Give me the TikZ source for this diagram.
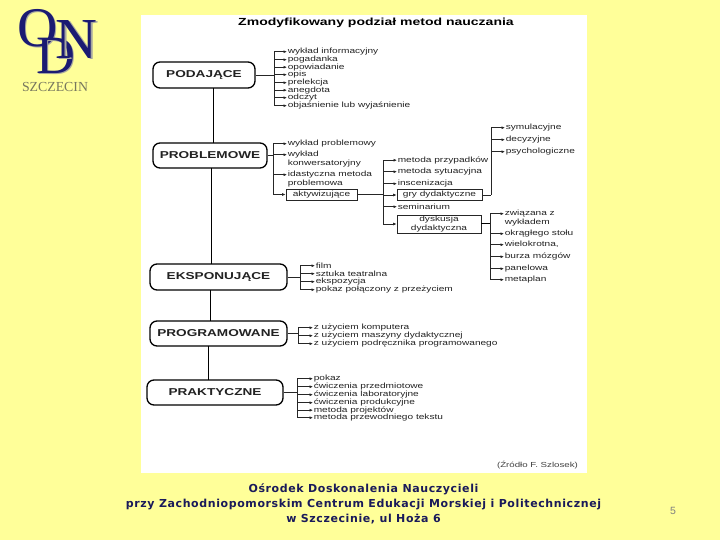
\documentclass[tikz,border=0pt]{standalone}
\usepackage{fontspec}
\setmainfont{Liberation Sans}
\newfontfamily\scanfont[FakeStretch=1.33]{Liberation Sans}
\newfontfamily\headfont[FakeStretch=1.36]{Liberation Sans}
\newfontfamily\logofont{Liberation Serif}
\newfontfamily\footfont[LetterSpace=5.5]{DejaVu Sans}
\usetikzlibrary{arrows.meta}
\definecolor{bgyellow}{HTML}{FFFF99}
\definecolor{logonavy}{HTML}{1B1B72}
\definecolor{logoshade}{HTML}{A8A8A0}
\definecolor{logotext}{HTML}{77775F}
\definecolor{foot}{HTML}{1A1A5A}
\definecolor{scanink}{HTML}{222222}
\tikzset{
  x=1pt,y=-1pt,
  major/.style={draw=black,line width=1.3pt,rounded corners=7pt,inner sep=0pt,text=scanink,font=\headfont\fontsize{10}{10}\selectfont\bfseries},
  sub/.style={draw=black!85,line width=.8pt,inner sep=0pt,text=scanink,font=\scanfont\fontsize{7.6}{9}\selectfont,align=center},
  item/.style={anchor=west,inner sep=0pt,outer sep=.8pt,yshift=-.7pt,text=scanink,font=\scanfont\fontsize{7.6}{8.6}\selectfont,align=left},
  link/.style={draw=black!85,line width=.7pt},
  spine/.style={draw=black,line width=1pt},
  arr/.style={link,-{Latex[length=3.5pt,width=3pt]}},
}
\begin{document}
\begin{tikzpicture}
\useasboundingbox (0,0) rectangle (720,540);
\fill[bgyellow] (0,0) rectangle (720,540);
\fill[white] (141,15) rectangle (587,473);

% logo
\node[inner sep=0,text=logoshade] at (39,29.5) {\logofont\fontsize{56}{56}\selectfont O};
\node[inner sep=0,text=logonavy] at (37.5,28.5) {\logofont\fontsize{56}{56}\selectfont O};
\node[inner sep=0,text=logoshade] at (57,56.5) {\logofont\fontsize{54}{54}\selectfont D};
\node[inner sep=0,text=logonavy] at (55.5,55.5) {\logofont\fontsize{54}{54}\selectfont D};
\node[inner sep=0,text=logoshade] at (78,41) {\logofont\fontsize{58}{58}\selectfont N};
\node[inner sep=0,text=logonavy] at (76.5,40) {\logofont\fontsize{58}{58}\selectfont N};
\node[inner sep=0,text=logotext] at (55,87.5) {\logofont\fontsize{13.8}{14}\selectfont SZCZECIN};

% title
\node[inner sep=0,text=black] (title) at (376,23) {\headfont\fontsize{10.3}{11}\selectfont\bfseries Zmodyfikowany podział metod nauczania};

% main boxes
\node[major,minimum width=102pt,minimum height=26pt] (pod) at (204,75) {PODAJĄCE};
\node[major,minimum width=114pt,minimum height=25pt] (pro) at (210,155.5) {PROBLEMOWE};
\node[major,minimum width=137pt,minimum height=26pt] (eks) at (218.5,277) {EKSPONUJĄCE};
\node[major,minimum width=137pt,minimum height=25pt] (prg) at (218.5,333.5) {PROGRAMOWANE};
\node[major,minimum width=136pt,minimum height=25pt] (pra) at (215,392.5) {PRAKTYCZNE};

% spine
\coordinate (s1) at (213,88); \coordinate (s1b) at (213,143);
\coordinate (s2) at (211,168); \coordinate (s2b) at (211,264);
\coordinate (s3) at (210,290); \coordinate (s3b) at (210,321);
\coordinate (s4) at (208,346); \coordinate (s4b) at (208,380);
\draw[spine] (s1) -- (s1b);
\draw[spine] (s2) -- (s2b);
\draw[spine] (s3) -- (s3b);
\draw[spine] (s4) -- (s4b);

% PODAJACE
\coordinate (tpod) at (274,75);
\draw[link] (pod.east) -- (tpod);
\node[item] (a1) at (287,51) {wykład informacyjny};
\node[item] (a2) at (287,59) {pogadanka};
\node[item] (a3) at (287,66.5) {opowiadanie};
\node[item] (a4) at (287,74) {opis};
\node[item] (a5) at (287,82) {prelekcja};
\node[item] (a6) at (287,89.5) {anegdota};
\node[item] (a7) at (287,97) {odczyt};
\node[item] (a8) at (287,105) {objaśnienie lub wyjaśnienie};
\foreach \n in {a1,a2,a3,a4,a5,a6,a7,a8} \draw[arr] (tpod) |- (\n.west);

% PROBLEMOWE
\coordinate (tpro) at (273,155.5);
\draw[link] (pro.east) -- (tpro);
\node[item] (b1) at (287,143) {wykład problemowy};
\node[item] (b2) at (287,154) {wykład};
\node[item,anchor=north west] (b2b) at (287,158.5) {konwersatoryjny};
\node[item] (b3) at (287,174) {idastyczna metoda};
\node[item,anchor=north west] (b3b) at (287,178) {problemowa};
\node[sub,minimum width=71pt,minimum height=11pt] (akt) at (321.5,194.5) {aktywizujące};
\foreach \n in {b1,b2,b3,akt} \draw[arr] (tpro) |- (\n.west);

% aktywizujace
\coordinate (takt) at (383,194.5);
\draw[link] (akt.east) -- (takt);
\node[item] (c1) at (397,159.5) {metoda przypadków};
\node[item] (c2) at (397,171) {metoda sytuacyjna};
\node[item] (c3) at (397,183) {inscenizacja};
\node[sub,minimum width=85pt,minimum height=11pt] (gry) at (439.5,195) {gry dydaktyczne};
\node[item] (c5) at (397,206) {seminarium};
\node[sub,minimum width=84pt,minimum height=18pt,font=\scanfont\fontsize{7.6}{8.5}\selectfont] (dys) at (439,224) {dyskusja\\dydaktyczna};
\foreach \n in {c1,c2,c3,gry,c5,dys} \draw[arr] (takt) |- (\n.west);

% gry
\coordinate (tgry) at (491,195);
\draw[link] (gry.east) -- (tgry);
\node[item] (d1) at (505,127) {symulacyjne};
\node[item] (d2) at (505,139) {decyzyjne};
\node[item] (d3) at (505,151) {psychologiczne};
\foreach \n in {d1,d2,d3} \draw[arr] (tgry) |- (\n.west);

% dyskusja
\coordinate (tdys) at (490,224);
\draw[spine] (dys.east) -- (tdys);
\node[item] (e1) at (504,213) {związana z};
\node[item,anchor=north west] (e1b) at (504,217) {wykładem};
\node[item] (e2) at (504,233) {okrągłego stołu};
\node[item] (e3) at (504,244) {wielokrotna,};
\node[item] (e4) at (504,256) {burza mózgów};
\node[item] (e5) at (504,268) {panelowa};
\node[item] (e6) at (504,279) {metaplan};
\foreach \n in {e1,e2,e3,e4,e5,e6} \draw[arr] (tdys) |- (\n.west);

% EKSPONUJACE
\coordinate (teks) at (300,277);
\draw[link] (eks.east) -- (teks);
\node[item] (f1) at (315,265) {film};
\node[item] (f2) at (315,273) {sztuka teatralna};
\node[item] (f3) at (315,281) {ekspozycja};
\node[item] (f4) at (315,289) {pokaz połączony z przeżyciem};
\foreach \n in {f1,f2,f3,f4} \draw[arr] (teks) |- (\n.west);

% PROGRAMOWANE
\coordinate (tprg) at (298,333.5);
\draw[link] (prg.east) -- (tprg);
\node[item] (g1) at (313,327) {z użyciem komputera};
\node[item] (g2) at (313,335) {z użyciem maszyny dydaktycznej};
\node[item] (g3) at (313,343) {z użyciem podręcznika programowanego};
\foreach \n in {g1,g2,g3} \draw[arr] (tprg) |- (\n.west);

% PRAKTYCZNE
\coordinate (tpra) at (297,392.5);
\draw[link] (pra.east) -- (tpra);
\node[item] (h1) at (313,378) {pokaz};
\node[item] (h2) at (313,386) {ćwiczenia przedmiotowe};
\node[item] (h3) at (313,394) {ćwiczenia laboratoryjne};
\node[item] (h4) at (313,402) {ćwiczenia produkcyjne};
\node[item] (h5) at (313,409.5) {metoda projektów};
\node[item] (h6) at (313,417) {metoda przewodniego tekstu};
\foreach \n in {h1,h2,h3,h4,h5,h6} \draw[arr] (tpra) |- (\n.west);

% source
\node[inner sep=0,text=black!75] (src) at (537.5,465.5) {\scanfont\fontsize{7.3}{8}\selectfont (Źródło F. Szlosek)};

% footer
\node[inner sep=0,text=foot,align=center,font=\footfont\fontsize{11}{15}\selectfont\bfseries] (ft) at (363.5,504) {Ośrodek Doskonalenia Nauczycieli\\przy Zachodniopomorskim Centrum Edukacji Morskiej i Politechnicznej\\w Szczecinie, ul Hoża 6};
\node[inner sep=0,text=black!50,font=\fontsize{10.5}{11}\selectfont] (pg) at (673,510.5) {5};
\end{tikzpicture}
\end{document}
